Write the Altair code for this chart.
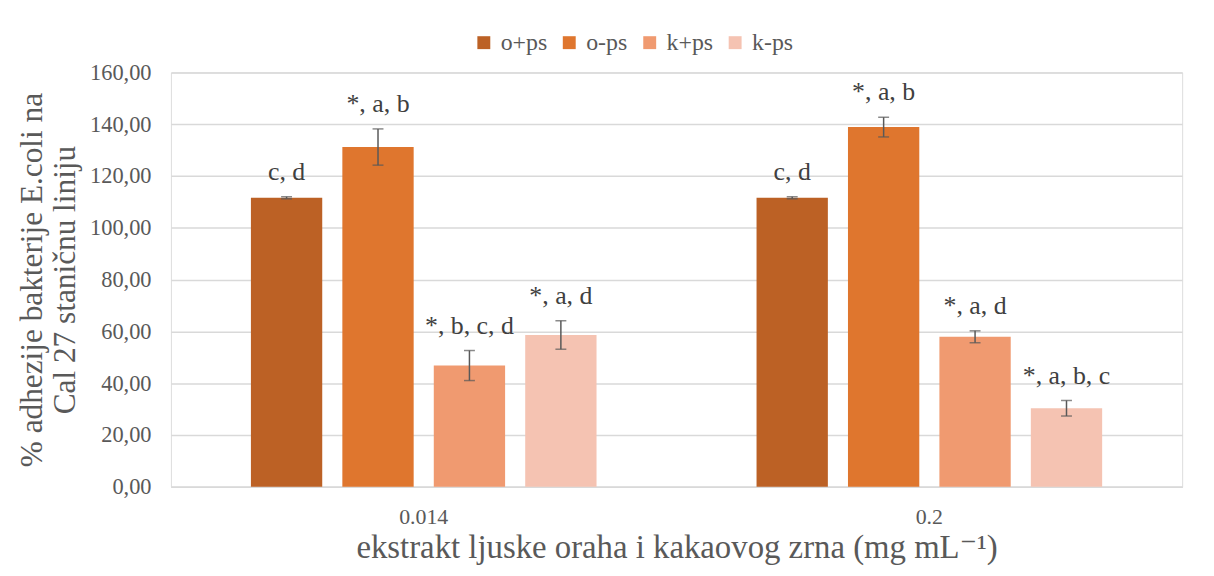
import altair as alt
import pandas as pd

concentrations = ["0.014", "0.2"]
series = ["o+ps", "o-ps", "k+ps", "k-ps"]
colors = ["#BC6125", "#DF762E", "#F09A70", "#F5C3B2"]

means_0014 = [111.6, 131.2, 46.8, 58.6]
errs_0014 = [0.4, 7.0, 5.8, 5.5]
labels_0014 = ["c, d", "*, a, b", "*, b, c, d", "*, a, d"]

means_02 = [111.6, 138.9, 57.9, 30.3]
errs_02 = [0.4, 3.8, 2.3, 3.0]
labels_02 = ["c, d", "*, a, b", "*, a, d", "*, a, b, c"]

y_ticks = [0, 20, 40, 60, 80, 100, 120, 140, 160]

rows = []
for conc, means, errs, labs in [("0.014", means_0014, errs_0014, labels_0014),
                                ("0.2", means_02, errs_02, labels_02)]:
    for s, m, e, l in zip(series, means, errs, labs):
        rows.append({"conc": conc, "series": s, "mean": m,
                     "lo": m - e, "hi": m + e, "label": l})
df = pd.DataFrame(rows)

FONT = "Times New Roman, Liberation Serif, DejaVu Serif, serif"
GREY = "#595959"

x_enc = alt.X("conc:N", sort=concentrations,
              scale=alt.Scale(paddingInner=0, paddingOuter=0),
              axis=alt.Axis(title="ekstrakt ljuske oraha i kakaovog zrna (mg mL⁻¹)",
                            labelAngle=0, ticks=False, domainColor="#d9d9d9",
                            domainWidth=1.5, labelFont=FONT, labelFontSize=22,
                            labelColor=GREY, labelPadding=20,
                            titleFont=FONT, titleFontSize=33, titleColor=GREY,
                            titleFontWeight="normal", titlePadding=4))
xoff_enc = alt.XOffset("series:N", sort=series,
                       scale=alt.Scale(paddingInner=0.22, paddingOuter=0.875))

y_scale = alt.Scale(domain=[0, 160], nice=False)

base = alt.Chart(df)

bars = base.mark_bar().encode(
    x=x_enc,
    xOffset=xoff_enc,
    y=alt.Y("mean:Q", scale=y_scale,
            axis=alt.Axis(values=y_ticks,
                          labelExpr="replace(format(datum.value, '.2f'), '.', ',')",
                          title=["% adhezije bakterije E.coli na", "Cal 27 staničnu liniju"],
                          domain=False, ticks=False, gridColor="#d9d9d9", gridWidth=1.5,
                          labelFont=FONT, labelFontSize=22.5, labelColor=GREY,
                          labelPadding=20, titleFont=FONT, titleFontSize=31.5,
                          titleColor=GREY, titleFontWeight="normal", titlePadding=8)),
    color=alt.Color("series:N", sort=series,
                    scale=alt.Scale(domain=series, range=colors),
                    legend=alt.Legend(orient="none", legendX=303, legendY=-42,
                                      direction="horizontal", title=None,
                                      symbolType="square", symbolSize=169,
                                      symbolStrokeWidth=0,
                                      labelFont=FONT, labelFontSize=24,
                                      labelColor=GREY, columnPadding=10,
                                      labelOffset=5)),
)

err_rule = base.mark_rule(color=GREY, strokeWidth=1.5).encode(
    x=alt.X("conc:N", sort=concentrations),
    xOffset=alt.XOffset("series:N", sort=series),
    y=alt.Y("lo:Q", scale=y_scale),
    y2="hi:Q",
)
cap_lo = base.mark_tick(color=GREY, size=11, thickness=1.5).encode(
    x=alt.X("conc:N", sort=concentrations),
    xOffset=alt.XOffset("series:N", sort=series),
    y=alt.Y("lo:Q", scale=y_scale),
)
cap_hi = base.mark_tick(color=GREY, size=11, thickness=1.5).encode(
    x=alt.X("conc:N", sort=concentrations),
    xOffset=alt.XOffset("series:N", sort=series),
    y=alt.Y("hi:Q", scale=y_scale),
)
text = base.mark_text(dy=-25, baseline="middle", font=FONT, fontSize=26,
                      color="#404040").encode(
    x=alt.X("conc:N", sort=concentrations),
    xOffset=alt.XOffset("series:N", sort=series),
    y=alt.Y("hi:Q", scale=y_scale),
    text="label:N",
)

chart = alt.layer(bars, err_rule, cap_lo, cap_hi, text).properties(
    width=1018, height=417,
    autosize=alt.AutoSizeParams(type="none"),
    padding={"left": 164, "top": 63, "right": 24, "bottom": 88},
).configure_view(stroke=None).configure(background="white", font=FONT)

chart.save("out.html", embed_options={"renderer": "svg", "actions": False})
